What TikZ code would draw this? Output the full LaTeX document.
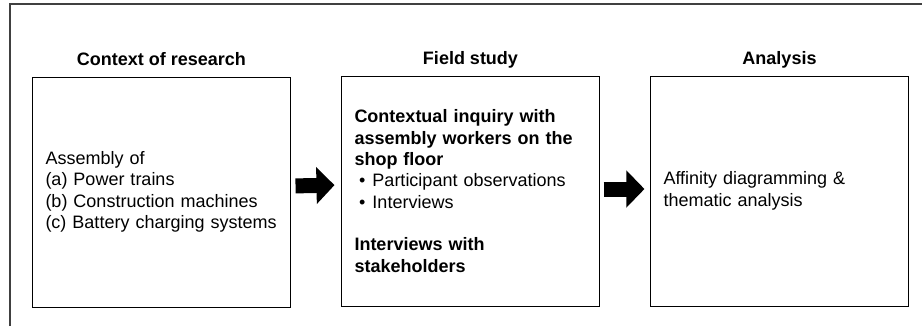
\documentclass[tikz,border=0pt]{standalone}
\usepackage{fontspec}
\setmainfont{Liberation Sans}
\usetikzlibrary{arrows.meta,positioning}
\begin{document}
\begin{tikzpicture}[x=0.75pt,y=-0.75pt,line join=miter,font=\fontsize{13.5}{16}\selectfont]
			\tikzset{stage/.style={draw,line width=0.75pt,minimum width=192.75pt,minimum height=172.5pt,
					text width=174pt,inner xsep=9.4pt,align=left},
				title/.style={font=\fontsize{13.5}{16}\selectfont\bfseries,inner sep=0pt,anchor=base},
				bigarrow/.style={line width=11.25pt,-{Triangle[length=13.5pt,width=27pt]}}}
			\useasboundingbox (0,0) rectangle (922,326);
			\draw[line width=0.9pt,black!75] (10,326)--(10,4)--(922,4);
			\node[stage] (ctx) at (161.5,192) {Assembly of\\(a) Power trains\\(b) Construction machines\\(c) Battery charging systems};
			\node[stage] (field) at (470.5,191) {\textbf{Contextual inquiry with\\assembly workers on the\\shop floor}\\
				\hspace*{3.5pt}\makebox[10pt][l]{\textbullet}Participant observations\\
				\hspace*{3.5pt}\makebox[10pt][l]{\textbullet}Interviews\\[16pt]
				\textbf{Interviews with\\stakeholders}};
			\node[stage] (ana) at (779.5,191) {Affinity diagramming \&\\thematic analysis};
			\node[title] (ctxT) at ([yshift=8.4pt]ctx.north) {Context of research};
			\node[title] (fieldT) at ([yshift=8.4pt]field.north) {Field study};
			\node[title] (anaT) at ([yshift=8.4pt]ana.north) {Analysis};
			% block arrows between the stages
			\draw[bigarrow,shorten <=3.75pt,shorten >=5.25pt] ([yshift=4.5pt]ctx.east)--([yshift=4.5pt]field.west);
			\draw[bigarrow,shorten <=3pt,shorten >=4.5pt] ([yshift=1.5pt]field.east)--([yshift=1.5pt]ana.west);
		\end{tikzpicture}
\end{document}
